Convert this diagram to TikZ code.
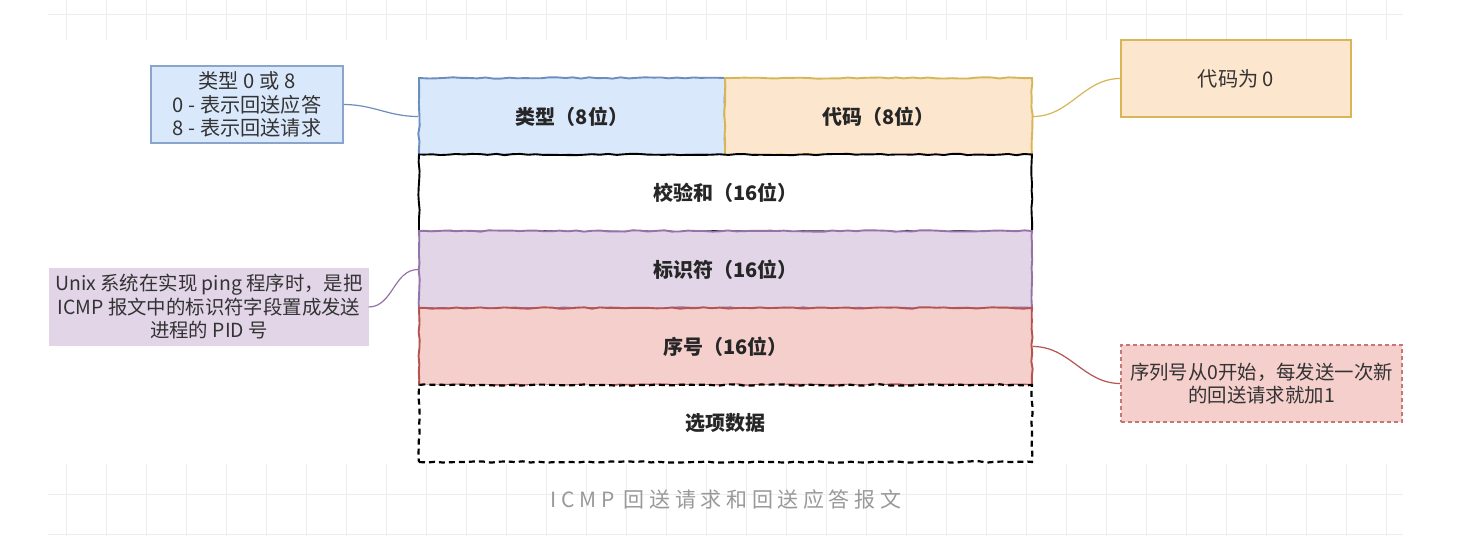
\documentclass[tikz,border=0pt]{standalone}
\usepackage{fontspec}
\setmainfont{Noto Sans CJK SC}
\usetikzlibrary{decorations.pathmorphing}
\definecolor{blueFill}{HTML}{DAE8FC}
\definecolor{blueLine}{HTML}{6C8EBF}
\definecolor{orangeFill}{HTML}{FDE6CE}
\definecolor{orangeLine}{HTML}{D6B656}
\definecolor{purpleFill}{HTML}{E1D5E7}
\definecolor{purpleLine}{HTML}{9673A6}
\definecolor{redFill}{HTML}{F4CFCC}
\definecolor{redLine}{HTML}{B85450}
\definecolor{textGray}{HTML}{333333}
\definecolor{gridGray}{HTML}{EDEDED}
\definecolor{capGray}{HTML}{999999}
\tikzstyle{field}=[draw, decorate, decoration={random steps, segment length=4pt, amplitude=.35pt}, line width=.95pt, inner sep=0pt, minimum height=38.5pt, font=\fontsize{10}{12}\selectfont\bfseries, text=black!85]
\tikzstyle{note}=[draw, line width=.6pt, inner sep=0pt, minimum height=38.5pt, align=center, font=\fontsize{9.7}{11.75}\selectfont, text=textGray]
\tikzstyle{link}=[line width=.6pt]
\tikzstyle{gridline}=[draw=gridGray, line width=.5pt]

\begin{document}
\begin{tikzpicture}[x=.5pt, y=-.5pt]
\pgfmathsetseed{11}
\useasboundingbox[fill=white] (0,0) rectangle (1462,536);
% faint grid
\foreach \i in {0,...,33}
  \draw[gridline] (66.7+40*\i,0) -- (66.7+40*\i,40) (66.7+40*\i,464) -- (66.7+40*\i,536);
\draw[gridline] (48,14) -- (1403,14) (48,494) -- (1403,494) (48,534) -- (1403,534);

% header fields
\node[field, fill=blueFill, draw=blueLine, minimum width=153pt] (type) at (572,116.5) {类型（8位）};
\node[field, fill=orangeFill, draw=orangeLine, minimum width=153.5pt] (code) at (878.5,116.5) {代码（8位）};
\node[field, fill=white, minimum width=306.5pt] (sum) at (725.5,193) {校验和（16位）};
\node[field, fill=purpleFill, draw=purpleLine, minimum width=306.5pt] (id) at (725.5,269.5) {标识符（16位）};
\node[field, fill=redFill, draw=redLine, minimum width=306.5pt] (seq) at (725.5,346.5) {序号（16位）};
\node[field, fill=white, dash pattern=on 3pt off 2pt, line width=1.1pt, minimum width=306.5pt] (opt) at (725.5,423.5) {选项数据};

% notes
\node[note, fill=blueFill, draw=blueLine!80, minimum width=96pt, font=\fontsize{10.1}{11.75}\selectfont] (typenote) at (247,104.5) {类型 0 或 8\\0 - 表示回送应答\\8 - 表示回送请求};
\node[note, fill=orangeFill, draw=orangeLine, minimum width=115pt, font=\fontsize{10.1}{11.75}\selectfont] (codenote) at (1236,78.5) {代码为 0};
\node[note, fill=purpleFill, draw=purpleFill, minimum width=159pt] (idnote) at (209,307) {Unix 系统在实现 ping 程序时，是把\\ICMP 报文中的标识符字段置成发送\\进程的 PID 号};
\node[note, fill=redFill, draw=redLine!80, dash pattern=on 2pt off 1.5pt, minimum width=140.5pt] (seqnote) at (1261.5,383.5) {序列号从0开始，每发送一次新\\的回送请求就加1};

\draw[link, blueLine] (typenote.east) to[out=0, in=180] (type.west);
\draw[link, orangeLine] (code.east) to[out=0, in=180] (codenote.west);
\draw[link, purpleLine] (idnote.east) to[out=0, in=180] (id.west);
\draw[link, redLine] (seq.east) to[out=0, in=180] (seqnote.west);

\node[text=capGray, font=\fontsize{10.5}{12}\selectfont] (title) at (726,500) {\addfontfeature{LetterSpace=22}ICMP 回送请求和回送应答报文};
\end{tikzpicture}
\end{document}
